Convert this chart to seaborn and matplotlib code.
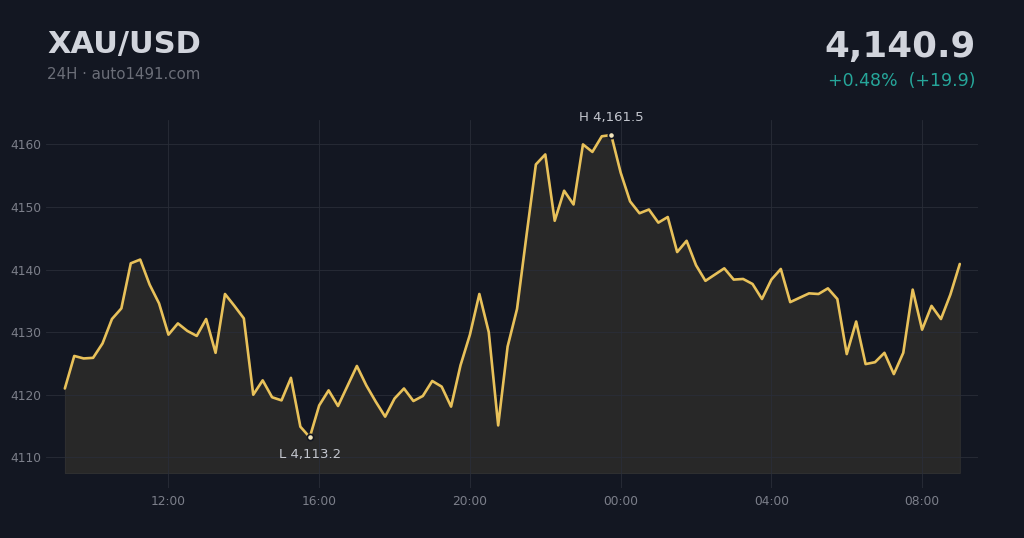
import matplotlib
matplotlib.use("Agg")
import matplotlib.pyplot as plt
import matplotlib.dates as mdates
import seaborn as sns
import pandas as pd
import numpy as np

# 15-minute XAU/USD closes, 09:15 -> 09:00 next day
prices = [
    4121.0, 4126.2, 4125.8, 4125.9, 4128.2, 4132.1, 4133.8, 4141.0, 4141.6, 4137.6,
    4134.6, 4129.6, 4131.4, 4130.2, 4129.4, 4132.1, 4126.7, 4136.1, 4134.2, 4132.2,
    4120.0, 4122.3, 4119.6, 4119.1, 4122.7, 4114.9, 4113.2, 4118.3, 4120.7, 4118.2,
    4121.4, 4124.6, 4121.5, 4118.9, 4116.5, 4119.4, 4121.0, 4119.0, 4119.8, 4122.2,
    4121.3, 4118.1, 4124.7, 4129.6, 4136.1, 4130.0, 4115.1, 4127.7, 4133.7, 4145.4,
    4156.8, 4158.4, 4147.8, 4152.6, 4150.4, 4160.0, 4158.8, 4161.3, 4161.5, 4155.5,
    4150.9, 4149.0, 4149.6, 4147.5, 4148.4, 4142.8, 4144.6, 4140.7, 4138.2, 4139.2,
    4140.2, 4138.4, 4138.5, 4137.7, 4135.3, 4138.4, 4140.1, 4134.8, 4135.5, 4136.2,
    4136.1, 4137.0, 4135.3, 4126.5, 4131.7, 4124.9, 4125.2, 4126.7, 4123.3, 4126.7,
    4136.8, 4130.4, 4134.2, 4132.1, 4136.0, 4140.9,
]
times = pd.date_range("2025-01-01 09:15", periods=len(prices), freq="15min")
df = pd.DataFrame({"time": times, "price": prices})

symbol = "XAU/USD"
subtitle = "24H \u00b7 auto1491.com"
last = prices[-1]
change = last - prices[0]
pct = change / prices[0] * 100

BG = "#131722"
GOLD = "#e8c15a"
GRID = "#2a2e39"
TICK = "#7c7f8a"

sns.set_style("dark", {"axes.facecolor": BG, "figure.facecolor": BG})
plt.rcParams["font.family"] = ["DejaVu Sans"]

fig = plt.figure(figsize=(10.24, 5.38), dpi=100)
ax = fig.add_axes([46 / 1024, 50 / 538, 932 / 1024, 368 / 538])

sns.lineplot(data=df, x="time", y="price", ax=ax, color=GOLD, linewidth=1.9, zorder=3)
base = 4107.5
ax.fill_between(df["time"], df["price"], base, facecolor="#292929", alpha=0.97,
                edgecolor="#333333", linewidth=0.6, zorder=2)

ax.set_xlim(pd.Timestamp("2025-01-01 08:45"), pd.Timestamp("2025-01-02 09:29"))
ax.set_ylim(4105.1, 4163.9)
ax.set_yticks([4110, 4120, 4130, 4140, 4150, 4160])
ax.xaxis.set_major_locator(mdates.HourLocator(byhour=[0, 4, 8, 12, 16, 20]))
ax.xaxis.set_major_formatter(mdates.DateFormatter("%H:%M"))
ax.set_xlabel("")
ax.set_ylabel("")
ax.set_axisbelow(False)  # grid shows through the fill, line stays on top
ax.grid(True, color=GRID, linewidth=0.8, alpha=0.8)
ax.tick_params(axis="both", length=0, colors=TICK, labelsize=8.8)
ax.tick_params(axis="y", pad=3.5)
ax.tick_params(axis="x", pad=5)
for s in ax.spines.values():
    s.set_visible(False)

# high / low markers
hi = df["price"].idxmax()
lo = df["price"].idxmin()
for idx, label, dy, va in [(hi, "H", 8, "bottom"), (lo, "L", -8, "top")]:
    t, p = df.loc[idx, "time"], df.loc[idx, "price"]
    ax.plot(t, p, "o", ms=4.5, mfc="#f3e6bd", mec=BG, mew=1.2, zorder=5)
    ax.annotate(f"{label} {p:,.1f}", (t, p), xytext=(0, dy), textcoords="offset points",
                ha="center", va=va, fontsize=9.5, color="#c3c6ce")

# header
fig.text(47 / 1024, 1 - 52.5 / 538, symbol, fontsize=22, fontweight="bold",
         color="#d1d4dc", va="baseline")
fig.text(47 / 1024, 1 - 79 / 538, subtitle, fontsize=10.8, color="#6b6e78", va="baseline")
fig.text(976 / 1024, 1 - 56.5 / 538, f"{last:,.1f}", fontsize=25.7, fontweight="bold",
         color="#d1d4dc", ha="right", va="baseline")
fig.text(976 / 1024, 1 - 86 / 538, f"{pct:+.2f}%  ({change:+.1f})",
         fontsize=12.5, color="#26a69a", ha="right", va="baseline")

fig.savefig("out.png", dpi=100, facecolor=BG)
